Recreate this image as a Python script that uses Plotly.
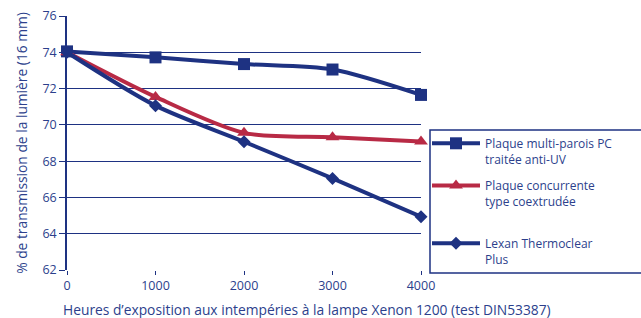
import plotly.graph_objects as go

hours = [0, 1000, 2000, 3000, 4000]
pc_anti_uv = [74.05, 73.72, 73.35, 73.05, 71.65]
concurrente = [74.0, 71.54, 69.56, 69.32, 69.08]
lexan = [74.0, 71.06, 69.07, 67.05, 64.94]
names = ["Plaque multi-parois PC<br>traitée anti-UV",
         "Plaque concurrente<br>type coextrudée<br> ",
         "Lexan Thermoclear<br>Plus"]
y_ticks = [62, 64, 66, 68, 70, 72, 74, 76]
x_ticks = [0, 1000, 2000, 3000, 4000]
x_title = "Heures d\u2019exposition aux intempéries à la lampe Xenon 1200 (test DIN53387)"
y_title = "% de transmission de la lumière (16 mm)"

NAVY = "#1e3282"
RED = "#b82a45"
TXT = "#2c3f8c"
FONT = "Open Sans"

fig = go.Figure()
series = [
    (pc_anti_uv, names[0], NAVY, "square", 12),
    (concurrente, names[1], RED, "triangle-up", 12),
    (lexan, names[2], NAVY, "diamond", 10),
]
for i, (vals, nm, col, sym, sz) in enumerate(series):
    fig.add_trace(go.Scatter(
        x=hours, y=vals, name=nm, mode="lines+markers",
        line=dict(color=col, width=4, shape="spline", smoothing=0.8),
        marker=dict(symbol=sym, size=sz, color=col),
        cliponaxis=False, legendgroup=str(i),
    ))

W, H = 641, 318
L, R, T, B = 67, 220, 16, 48
pw, ph = W - L - R, H - T - B

def px_x(p):
    return (p - L) / pw

def px_y(p):
    return (H - B - p) / ph

fig.add_shape(type="rect", xref="paper", yref="paper",
              x0=px_x(430), x1=px_x(660), y0=px_y(273), y1=px_y(130),
              line=dict(color=NAVY, width=1.5), fillcolor="rgba(0,0,0,0)")

fig.add_annotation(text=x_title, xref="paper", yref="paper",
                   x=px_x(307), y=px_y(309), xanchor="center", yanchor="middle",
                   showarrow=False, font=dict(size=13.8, color=TXT, family=FONT))

fig.update_layout(
    width=W, height=H,
    margin=dict(l=L, r=R, t=T, b=B, pad=0, autoexpand=False),
    paper_bgcolor="white", plot_bgcolor="white",
    font=dict(family=FONT, color=TXT, size=12),
    showlegend=True,
    legend=dict(x=px_x(427), y=px_y(129), xanchor="left", yanchor="top",
                bgcolor="rgba(0,0,0,0)", borderwidth=0,
                font=dict(family=FONT, size=12, color=TXT),
                valign="top", tracegroupgap=8, itemwidth=48),
    xaxis=dict(range=[0, 4000], tickvals=x_ticks, showgrid=False,
               showline=False, zeroline=False,
               ticks="outside", ticklen=4, tickcolor=NAVY, tickwidth=1,
               tickfont=dict(size=12.5, color=TXT)),
    yaxis=dict(range=[62, 76], tickvals=y_ticks, showgrid=True,
               gridcolor=NAVY, gridwidth=1.2, zeroline=False,
               showline=True, linecolor=NAVY, linewidth=1.5,
               ticks="outside", ticklen=6, tickcolor=NAVY, tickwidth=1.2,
               tickfont=dict(size=12.5, color=TXT),
               title=dict(text=y_title,
                          font=dict(size=13.8, color=TXT), standoff=12)),
)

fig.write_html("out.html", config={"displayModeBar": False},
               post_script="document.body.style.margin='0';document.body.style.overflow='hidden';")
